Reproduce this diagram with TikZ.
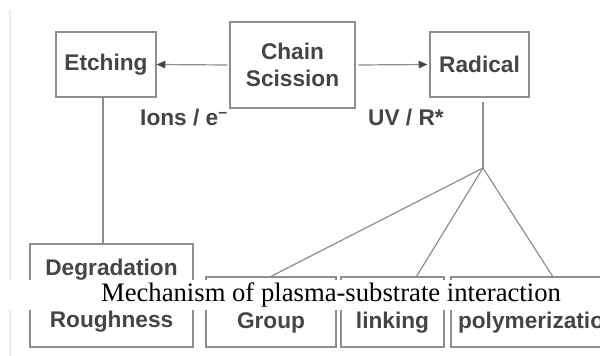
\documentclass[tikz,border=0pt]{standalone}
\usepackage{fontspec}
\setmainfont{Liberation Sans}
\newfontfamily\captionfont{Liberation Serif}
\usetikzlibrary{arrows.meta}

\definecolor{boxline}{HTML}{8E8E8E}
\definecolor{boxtext}{HTML}{454545}
\definecolor{margin}{HTML}{EFE9D8}

\tikzset{
  stage/.style={draw=boxline, line width=0.9pt, fill=white, text=boxtext,
    font=\fontsize{17}{20}\selectfont\bfseries, align=center, inner sep=0pt},
  wire/.style={draw=boxline, line width=0.9pt},
  flow/.style={wire, -{Triangle[width=5.5pt,length=6.5pt,color=boxtext]}},
  tag/.style={text=boxtext, font=\fontsize{17}{20}\selectfont\bfseries}
}

\begin{document}
\begin{tikzpicture}[x=0.75pt,y=-0.75pt]
    \clip (0,0) rectangle (600,356);
    \fill[white] (0,0) rectangle (600,356);
    \draw[margin, line width=1.2pt] (10,10) -- (10,356);

    % top row
    \node[stage, minimum width=75pt, minimum height=48.75pt] (etch) at (106,64.5) {Etching};
    \node[stage, minimum width=93.75pt, minimum height=64.5pt] (chain) at (292.5,65) {Chain\\Scission};
    \node[stage, minimum width=74.25pt, minimum height=48.75pt] (radical) at (479.5,64.5) {Radical};

    \draw[flow] ([xshift=-1.5pt]chain.west) -- (etch.east);
    \draw[flow] ([xshift=2pt]chain.east) -- ([xshift=-1.5pt]radical.west);

    \node[tag] (ions) at (184,118) {Ions / e\textsuperscript{–}};
    \node[tag] (uv) at (406,118) {UV / R*};

    % bottom row
    \node[stage, minimum width=122.25pt, minimum height=77.25pt] (degr) at (111.5,295.5) {Degradation\\[19pt]Roughness};
    \node[stage, minimum width=97.5pt, minimum height=52.5pt] (group) at (271,312) {\vphantom{Group}\\[-4pt]Group};
    \node[stage, minimum width=77.25pt, minimum height=52.5pt] (cross) at (392.5,312) {\vphantom{Group}\\[-4pt]linking};
    \node[stage, minimum width=130.5pt, minimum height=52.5pt] (poly) at (538,312) {\vphantom{Group}\\[-4pt]polymerization};

    \coordinate (fork) at (483,168);
    \draw[wire] ([xshift=-2.25pt]etch.south) -- ([xshift=-2.25pt]etch.south |- degr.north);
    \draw[wire] ([yshift=-3pt]radical.south -| fork) -- (fork);
    \draw[wire] (fork) -- (group.north);
    \draw[wire] (fork) -- ([xshift=18pt]cross.north);
    \draw[wire] (fork) -- ([xshift=11pt]poly.north);

    % caption band
    \fill[white] (0,280) rectangle (600,310);
    \node[font=\captionfont\fontsize{20}{22}\selectfont] (caption) at (331,295) {Mechanism of plasma-substrate interaction};
\end{tikzpicture}
\end{document}
